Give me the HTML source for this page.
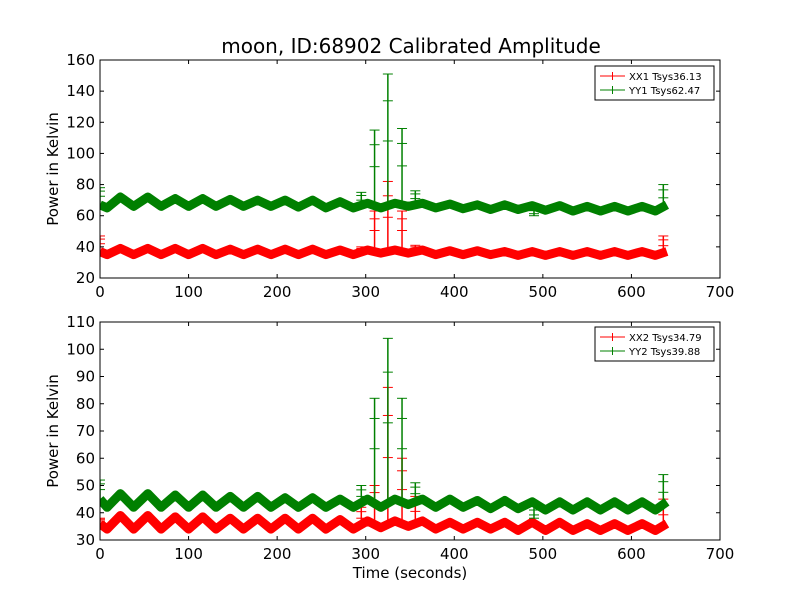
<!DOCTYPE html>
<html><head><meta charset="utf-8"><style>
body{margin:0;background:#fff}
svg text{font-family:"DejaVu Sans","Liberation Sans",sans-serif}
</style></head><body>
<svg id="chart" width="800" height="600" viewBox="0 0 800 600">
<rect width="800" height="600" fill="#fff"/>
<text x="411" y="53" font-size="20" text-anchor="middle">moon, ID:68902 Calibrated Amplitude</text>
</svg>
<script>
const times = [0,8,23,38,54,69,85,100,116,131,147,162,178,193,209,224,240,255,271,286,302,317,333,348,364,379,395,410,426,441,457,472,488,503,519,534,550,565,581,596,612,627,640];
const xx1 = [37,35,39,35,39,35,39,35,39,35,38.5,35,38.5,35,38.5,35,38.5,35,38,35,38,36,38,36,38,35,37.5,35,37.5,35,37,34.5,37,34.5,37,34.5,37,34.5,37,34.5,37,34.5,37];
const yy1 = [67,65,72,66,72,66,71,66,71,66,70.5,66,70,66,70,65.5,70,65,69,65,68,65,68,66,68,65,67.5,64.5,67,64,67,64,66.5,63.5,66.5,63,66,63,66,63,66,63,67];
const xx2 = [36,34,39,34,39,34,38.5,34,38.5,34,38,34,38,34,38,34,38,34,37.5,34,37,34.5,37,35,37,34,36.5,34,36.5,34,36.5,33.5,36.5,33.5,36.5,33.5,36,33.5,36,33.5,36,33.5,36];
const yy2 = [45,42,47,42,47,42,46.5,42,46.5,42,46,42,46,42,45.5,42,45.5,42,45,42,45,42,45,43,45,42,45,42,44.5,41.5,44.5,41.5,44,41,44,41,44,41,44,41,44,41,44];
const spikeTimes = [0,295,310,325,341,356,490,636];
const spikeXX1 = [47,40,63,82,63,41,37,47];
const spikeYY1 = [78,75,115,151,116,76,60,80];
const spikeXX2 = [38,42,50,86,60,46,36,45];
const spikeYY2 = [52,50,82,104,82,51,38,54];
const xTicks = [0,100,200,300,400,500,600,700];
const yTicksTop = [20,40,60,80,100,120,140,160];
const yTicksBot = [30,40,50,60,70,80,90,100,110];

const svg = document.getElementById('chart');
const NS = 'http://www.w3.org/2000/svg';
function mk(tag, attrs, parent){const e=document.createElementNS(NS,tag);for(const k in attrs)e.setAttribute(k,attrs[k]);(parent||svg).appendChild(e);return e;}

const X0=100,X1=720;
function xs(t){return X0+(t-0)/700*(X1-X0);}

function panel(top,bottom,ymin,ymax,yTicks,series,labels,name,legendY){
  const ys=v=>bottom-(v-ymin)/(ymax-ymin)*(bottom-top);
  const g=mk('g',{});
  
  
  const clip=mk('clipPath',{id:'c'+name},g);
  mk('rect',{x:X0,y:top,width:X1-X0,height:bottom-top},clip);
  const plot=mk('g',{'clip-path':'url(#c'+name+')'},g);
  series.forEach(s=>{
    const sg=mk('g',{},plot);
    
    
    spikeTimes.forEach((t,i)=>{
      const base=s.vals[Math.min(times.length-1,Math.round(t/15.4))];
      const v=s.spikes[i];
      const x=xs(t);
      const ln=mk('line',{x1:x,x2:x,y1:ys(base),y2:ys(v),stroke:s.color,'stroke-width':1.5},sg);
      
      
      [v,(v+base)/2,base+(v-base)*0.8].forEach(vv=>{
        mk('line',{x1:x-5,x2:x+5,y1:ys(vv),y2:ys(vv),stroke:s.color,'stroke-width':1},sg);
      });
    });
    const pts=times.map((t,i)=>xs(t)+','+ys(s.vals[i])).join(' ');
    const pl=mk('polyline',{points:pts,fill:'none',stroke:s.color,'stroke-width':9,'stroke-linejoin':'round'},sg);
    
    
  });
  mk('rect',{x:X0,y:top,width:X1-X0,height:bottom-top,fill:'none',stroke:'#000','stroke-width':1},g);
  xTicks.forEach(t=>{
    const x=xs(t);
    mk('line',{x1:x,x2:x,y1:bottom,y2:bottom-4,stroke:'#000'},g);
    mk('line',{x1:x,x2:x,y1:top,y2:top+4,stroke:'#000'},g);
    const tx=mk('text',{x:x,y:bottom+19,'font-size':15,'text-anchor':'middle'},g);
    tx.textContent=t;
    
    
  });
  yTicks.forEach(v=>{
    const y=ys(v);
    mk('line',{x1:X0,x2:X0+4,y1:y,y2:y,stroke:'#000'},g);
    mk('line',{x1:X1,x2:X1-4,y1:y,y2:y,stroke:'#000'},g);
    const tx=mk('text',{x:X0-5,y:y+5,'font-size':15,'text-anchor':'end'},g);
    tx.textContent=v;
    
    
  });
  const yl=mk('text',{x:0,y:0,'font-size':15,'text-anchor':'middle',transform:'translate(58,'+((top+bottom)/2)+') rotate(-90)'},g);
  yl.textContent='Power in Kelvin';
  
  
  const lg=mk('g',{},g);
  
  
  mk('rect',{x:595,y:legendY,width:119,height:34,fill:'#fff',stroke:'#000','stroke-width':1},lg);
  series.forEach((s,i)=>{
    const yy=legendY+10+i*14;
    mk('line',{x1:600,x2:625,y1:yy,y2:yy,stroke:s.color,'stroke-width':1},lg);
    mk('line',{x1:612.5,x2:612.5,y1:yy-4,y2:yy+4,stroke:s.color,'stroke-width':1},lg);
    const tx=mk('text',{x:629,y:yy+4,'font-size':10},lg);
    tx.textContent=labels[i];
    
    
  });
}
panel(60,278,20,160,yTicksTop,[
  {name:'xx1-series',color:'#ff0000',vals:xx1,spikes:spikeXX1},
  {name:'yy1-series',color:'#008000',vals:yy1,spikes:spikeYY1}
],['XX1 Tsys36.13','YY1 Tsys62.47'],'top-panel',66);
panel(322,540,30,110,yTicksBot,[
  {name:'xx2-series',color:'#ff0000',vals:xx2,spikes:spikeXX2},
  {name:'yy2-series',color:'#008000',vals:yy2,spikes:spikeYY2}
],['XX2 Tsys34.79','YY2 Tsys39.88'],'bottom-panel',327);
const xl=mk('text',{x:410,y:578,'font-size':15,'text-anchor':'middle'});
xl.textContent='Time (seconds)';


</script>
</body></html>
